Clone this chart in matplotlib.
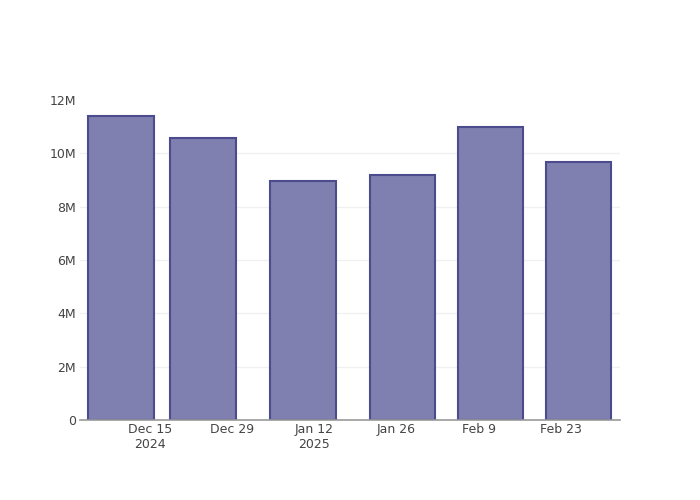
import datetime as dt
import matplotlib
matplotlib.use("Agg")
import matplotlib.pyplot as plt
import matplotlib.dates as mdates

# bar dates and values
dates = ["2024-12-10", "2024-12-24", "2025-01-10", "2025-01-27", "2025-02-11", "2025-02-26"]
values = [11.40e6, 10.57e6, 8.95e6, 9.18e6, 10.99e6, 9.67e6]

tick_dates = ["2024-12-15", "2024-12-29", "2025-01-12", "2025-01-26", "2025-02-09", "2025-02-23"]
tick_labels = ["Dec 15\n2024", "Dec 29", "Jan 12\n2025", "Jan 26", "Feb 9", "Feb 23"]
y_ticks = [0, 2e6, 4e6, 6e6, 8e6, 10e6, 12e6]
y_labels = ["0", "2M", "4M", "6M", "8M", "10M", "12M"]

to_num = lambda s: mdates.date2num(dt.datetime.strptime(s, "%Y-%m-%d"))
x = [to_num(d) for d in dates]
xt = [to_num(d) for d in tick_dates]

fig = plt.figure(figsize=(7, 5), dpi=100)
ax = fig.add_axes([80 / 700, 80 / 500, 540 / 700, 320 / 500])

ax.bar(x, values, width=11.2, color="#7f7fb0", edgecolor="#4b4b8e",
       linewidth=1.5, zorder=2)

ax.set_xlim(to_num("2024-12-15") - 11.92, to_num("2025-02-23") + 10.05)
ax.set_ylim(0, 12.0e6)

ax.set_xticks(xt)
ax.set_xticklabels(tick_labels)
ax.set_yticks(y_ticks)
ax.set_yticklabels(y_labels)
ax.tick_params(axis="both", length=0, labelsize=9, labelcolor="#444444")
ax.tick_params(axis="x", pad=2)
ax.tick_params(axis="y", pad=3)
for lbl in ax.get_xticklabels():
    lbl.set_linespacing(1.2)

# gridlines, skipping the one on the top edge
for yv in y_ticks[1:-1]:
    ax.axhline(yv, color="#f0f0f0", linewidth=1, zorder=0)
for side in ["top", "right", "left"]:
    ax.spines[side].set_visible(False)
ax.spines["bottom"].set_color("#999999")
ax.spines["bottom"].set_linewidth(1.2)

fig.savefig("out.png", dpi=100)
